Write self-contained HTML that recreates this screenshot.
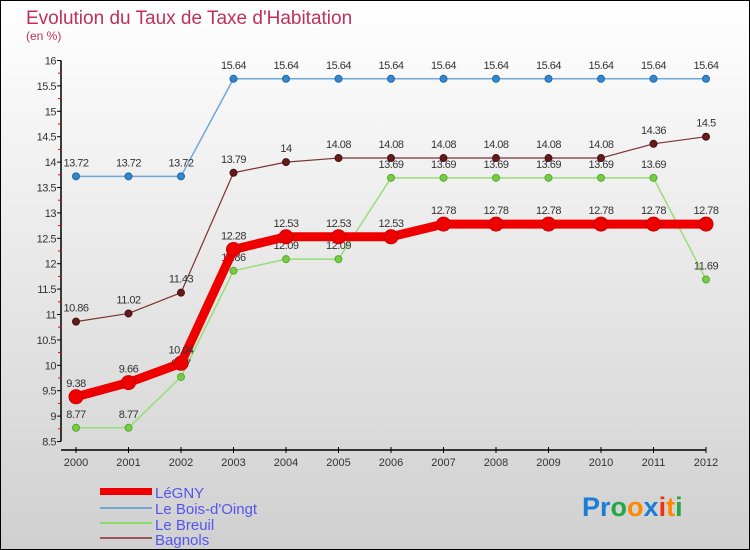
<!DOCTYPE html>
<html><head><meta charset="utf-8"><style>
body{margin:0;}
svg{display:block;font-family:"Liberation Sans","DejaVu Sans",sans-serif;}
</style></head><body>
<svg id="chart" width="750" height="550" xmlns="http://www.w3.org/2000/svg">
<defs><linearGradient id="bg" x1="0" y1="0" x2="0" y2="1"><stop offset="0" stop-color="#ffffff"/><stop offset="1" stop-color="#d0d0d0"/></linearGradient></defs>
<rect x="0.5" y="0.5" width="749" height="549" fill="url(#bg)" stroke="#000"/>
<text x="26" y="24" font-size="19" fill="#c0305a">Evolution du Taux de Taxe d'Habitation</text>
<text x="26" y="40" font-size="12" fill="#c0305a">(en %)</text>
<g id="axes"></g><g id="series"></g>
<g>
<rect x="100" y="488" width="52" height="7" fill="#ee0000"/>
<text x="155" y="498" font-size="15" fill="#5555ee">LéGNY</text>
<rect x="100" y="507" width="52" height="2" fill="#6fa8cc"/>
<text x="155" y="514" font-size="15" fill="#5555ee">Le Bois-d'Oingt</text>
<rect x="100" y="522" width="52" height="2" fill="#88dd66"/>
<text x="155" y="530" font-size="15" fill="#5555ee">Le Breuil</text>
<rect x="100" y="537" width="52" height="2" fill="#995555"/>
<text x="155" y="545" font-size="15" fill="#5555ee">Bagnols</text>
</g>
<text x="582" y="516" font-size="27" font-weight="bold"><tspan fill="#1a7fd4">Pr</tspan><tspan fill="#22a844">o</tspan><tspan fill="#ff8800">o</tspan><tspan fill="#1a7fd4">x</tspan><tspan fill="#ee3311">i</tspan><tspan fill="#ff8800">t</tspan><tspan fill="#22a844">i</tspan></text>
</svg>
<script>
const years=[2000,2001,2002,2003,2004,2005,2006,2007,2008,2009,2010,2011,2012];
const legny=[9.38,9.66,10.04,12.28,12.53,12.53,12.53,12.78,12.78,12.78,12.78,12.78,12.78];
const bois=[13.72,13.72,13.72,15.64,15.64,15.64,15.64,15.64,15.64,15.64,15.64,15.64,15.64];
const breuil=[8.77,8.77,9.77,11.86,12.09,12.09,13.69,13.69,13.69,13.69,13.69,13.69,11.69];
const bagnols=[10.86,11.02,11.43,13.79,14,14.08,14.08,14.08,14.08,14.08,14.08,14.36,14.5];
const yTicks=[8.5,9,9.5,10,10.5,11,11.5,12,12.5,13,13.5,14,14.5,15,15.5,16];
const NS="http://www.w3.org/2000/svg";
const X=i=>76+i*52.5, Y=v=>441.5-(v-8.5)*50.8;
function mk(t,a,p){const e=document.createElementNS(NS,t);for(const k in a)e.setAttribute(k,a[k]);p.appendChild(e);return e;}
const ax=document.getElementById('axes'), se=document.getElementById('series');
let l=mk('line',{x1:61,y1:Y(16),x2:61,y2:Y(8.5),stroke:'#000','stroke-width':1.5},ax);


l=mk('line',{x1:61,y1:450,x2:X(12),y2:450,stroke:'#000','stroke-width':1.5},ax);


yTicks.forEach(v=>{mk('line',{x1:57,y1:Y(v),x2:61,y2:Y(v),stroke:'#000'},ax);
 if(v<16) mk('line',{x1:58,y1:Y(v+0.25),x2:61,y2:Y(v+0.25),stroke:'#e00'},ax);
 const t=mk('text',{x:56,y:Y(v)+4,'font-size':11,fill:'#333','text-anchor':'end','letter-spacing':'-0.5'},ax);
 
 
 t.textContent=String(v);});
years.forEach((y,i)=>{mk('line',{x1:X(i),y1:447,x2:X(i),y2:453,stroke:'#000'},ax);
 const t=mk('text',{x:X(i),y:466,'font-size':11,fill:'#333','text-anchor':'middle'},ax);
 
 
 t.textContent=y;});
function series(name,vals,color,w,r,dot,stroke){
 const g=mk('g',{},se);
 
 
 mk('polyline',{points:vals.map((v,i)=>X(i)+','+Y(v)).join(' '),fill:'none',stroke:color,'stroke-width':w,'stroke-linejoin':'round'},g);
 vals.forEach((v,i)=>{const c=mk('circle',{cx:X(i),cy:Y(v),r:r,fill:dot,stroke:stroke,'stroke-width':1},g);
  
  
  const t=mk('text',{x:X(i),y:Y(v)-10,'font-size':11,fill:'#333','text-anchor':'middle','letter-spacing':'-0.5'},g);
  
  
  t.textContent=String(v);});
}
series('bagnols',bagnols,'#7a3333',1.2,3.5,'#661a1a','#441111');
series('breuil',breuil,'#99dd77',1.5,3.5,'#77cc44','#55aa33');
series('bois',bois,'#6fa8d4',1.5,3.5,'#3388cc','#2266aa');
series('legny',legny,'#ee0000',9,7,'#ee0000','#cc0000');
</script>
</body></html>
